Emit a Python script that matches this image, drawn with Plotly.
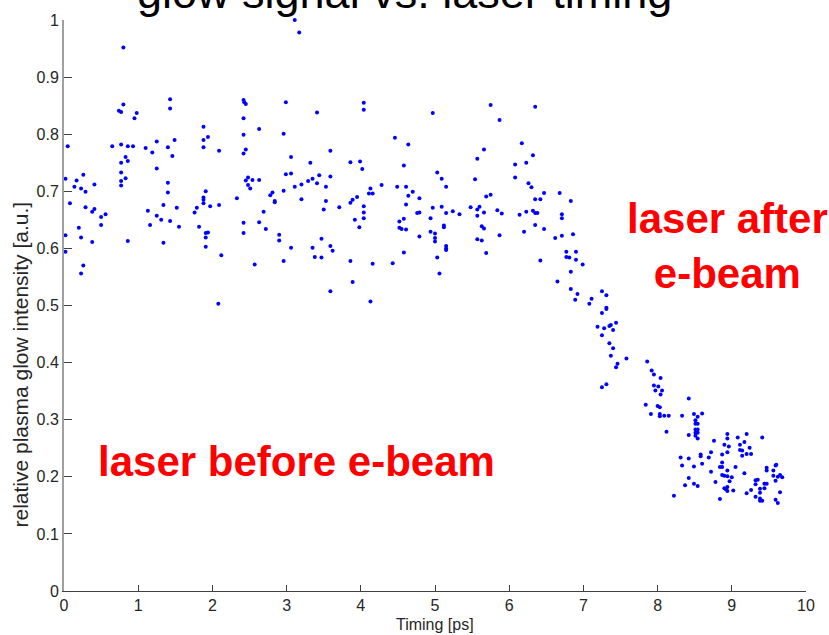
import plotly.graph_objects as go

# ---- data (Timing [ps], relative glow) ----
timing_a = [0.80, 1.43, 1.43, 0.80, 0.74, 0.77, 0.98, 0.95, 1.88, 1.88, 1.94, 1.88, 2.09, 0.05, 0.65, 0.77,
            0.86, 0.93, 1.10, 1.19, 1.25, 1.40, 1.49, 1.46, 1.25, 0.83, 0.86, 0.77, 0.77, 0.83, 0.77, 0.77,
            1.40, 1.40, 0.02, 0.26, 0.17, 0.14, 0.23, 0.29, 0.41, 0.08, 0.29, 0.41, 0.38, 0.56, 0.50, 0.50,
            0.20, 0.23, 0.02, 0.38, 0.02, 0.26, 0.23, 0.86, 1.13, 1.16, 1.25, 1.31, 1.34, 1.43, 1.52, 1.55,
            1.34, 1.91, 1.88, 1.88, 1.88, 1.97, 1.79, 1.76, 1.82, 1.94, 1.91, 1.91, 1.91, 2.09, 2.08, 2.12]
glow_a = [0.952, 0.861, 0.845, 0.852, 0.841, 0.839, 0.837, 0.828, 0.813, 0.790, 0.795, 0.777, 0.771, 0.779, 0.779, 0.782,
          0.779, 0.779, 0.776, 0.768, 0.787, 0.777, 0.790, 0.762, 0.740, 0.760, 0.753, 0.750, 0.733, 0.723, 0.718, 0.710,
          0.715, 0.698, 0.722, 0.729, 0.719, 0.708, 0.705, 0.699, 0.712, 0.679, 0.672, 0.669, 0.664, 0.660, 0.655, 0.641,
          0.636, 0.619, 0.623, 0.611, 0.594, 0.570, 0.556, 0.613, 0.666, 0.641, 0.657, 0.650, 0.676, 0.648, 0.671, 0.638,
          0.610, 0.700, 0.689, 0.685, 0.679, 0.674, 0.671, 0.663, 0.638, 0.628, 0.627, 0.619, 0.603, 0.676, 0.503, 0.588]

timing_b = [3.11, 3.17, 2.42, 2.43, 2.45, 2.99, 3.41, 4.04, 4.04, 2.42, 2.42, 2.63, 2.96, 2.45, 2.42, 3.59,
            3.06, 3.32, 3.86, 3.99, 4.02, 2.99, 3.06, 3.44, 3.59, 2.48, 2.45, 2.54, 2.63, 2.48, 2.51, 3.35,
            3.29, 3.41, 3.20, 3.11, 3.53, 2.96, 2.81, 2.78, 2.84, 2.84, 2.33, 3.20, 3.53, 4.13, 4.11, 4.16,
            3.95, 3.89, 3.86, 4.04, 4.04, 4.04, 3.71, 3.50, 2.69, 2.63, 2.42, 2.42, 2.72, 2.90, 2.90, 3.92,
            3.98, 3.47, 3.06, 3.35, 3.59, 3.62, 3.38, 3.47, 2.96, 2.57, 3.86, 4.16, 3.89, 3.59, 4.13]
glow_b = [1.000, 0.978, 0.860, 0.856, 0.853, 0.856, 0.838, 0.855, 0.843, 0.828, 0.799, 0.809, 0.801, 0.773, 0.766, 0.771,
          0.760, 0.750, 0.751, 0.752, 0.739, 0.730, 0.731, 0.728, 0.726, 0.724, 0.719, 0.720, 0.720, 0.711, 0.705, 0.722,
          0.718, 0.714, 0.712, 0.708, 0.708, 0.701, 0.698, 0.693, 0.683, 0.681, 0.688, 0.686, 0.683, 0.705, 0.696, 0.696,
          0.690, 0.685, 0.680, 0.674, 0.663, 0.653, 0.672, 0.668, 0.664, 0.646, 0.645, 0.627, 0.634, 0.624, 0.614, 0.650,
          0.637, 0.617, 0.601, 0.601, 0.604, 0.596, 0.585, 0.584, 0.578, 0.572, 0.578, 0.573, 0.541, 0.525, 0.507]

timing_c = [5.75, 5.87, 4.97, 4.46, 4.64, 6.17, 5.66, 5.57, 6.08, 6.23, 4.58, 5.03, 5.09, 5.54, 6.08, 6.26,
            4.28, 4.49, 4.61, 5.15, 4.70, 4.64, 4.79, 5.69, 5.75, 4.61, 4.97, 5.09, 5.48, 5.57, 5.60, 5.24,
            5.33, 5.15, 4.79, 4.76, 5.66, 5.84, 5.90, 6.14, 6.23, 4.94, 4.58, 4.52, 5.57, 5.12, 5.12, 5.63,
            5.66, 4.52, 4.55, 4.61, 4.94, 5.00, 6.20, 4.79, 5.87, 5.00, 5.00, 5.57, 5.63, 5.15, 5.15, 5.15,
            4.58, 5.69, 5.03, 4.43, 5.06]
glow_c = [0.851, 0.825, 0.837, 0.794, 0.782, 0.784, 0.773, 0.757, 0.747, 0.750, 0.745, 0.733, 0.722, 0.721, 0.724, 0.714,
          0.711, 0.708, 0.708, 0.708, 0.699, 0.692, 0.688, 0.691, 0.694, 0.677, 0.671, 0.673, 0.672, 0.668, 0.673, 0.665,
          0.660, 0.662, 0.663, 0.662, 0.663, 0.667, 0.661, 0.659, 0.664, 0.653, 0.652, 0.647, 0.657, 0.640, 0.637, 0.639,
          0.635, 0.636, 0.634, 0.633, 0.629, 0.626, 0.629, 0.621, 0.623, 0.618, 0.612, 0.616, 0.614, 0.604, 0.600, 0.597,
          0.593, 0.592, 0.584, 0.574, 0.556]

timing_d = [6.35, 6.32, 6.30, 6.47, 6.68, 6.35, 6.42, 6.83, 6.32, 6.35, 6.38, 6.71, 6.71, 6.35, 6.47, 6.62,
            6.71, 6.86, 6.77, 6.90, 6.77, 6.81, 6.90, 6.99, 6.42, 6.83, 6.65, 6.83, 6.92, 6.89, 7.11, 7.08,
            7.25, 7.31, 7.31, 7.31, 7.25, 7.19, 7.28, 7.35, 7.37, 7.44, 7.40, 7.25, 7.35, 7.40, 7.37, 7.58,
            7.46, 7.44, 7.25, 7.31, 7.86, 7.92, 7.95, 8.04, 7.95, 8.01, 7.97, 8.06, 8.04]
glow_d = [0.848, 0.763, 0.707, 0.697, 0.697, 0.686, 0.686, 0.683, 0.666, 0.662, 0.662, 0.660, 0.653, 0.641, 0.634, 0.618,
          0.622, 0.625, 0.594, 0.594, 0.585, 0.584, 0.580, 0.572, 0.579, 0.559, 0.542, 0.529, 0.520, 0.510, 0.512, 0.503,
          0.525, 0.518, 0.496, 0.494, 0.487, 0.463, 0.460, 0.464, 0.466, 0.470, 0.457, 0.448, 0.434, 0.425, 0.412, 0.407,
          0.398, 0.392, 0.357, 0.362, 0.402, 0.386, 0.379, 0.373, 0.360, 0.358, 0.351, 0.351, 0.344]

timing_e = [7.84, 7.91, 8.00, 8.03, 8.03, 8.03, 8.09, 8.15, 8.12, 8.42, 8.33, 8.42, 8.49, 8.54, 8.60, 8.51,
            8.51, 8.54, 8.51, 8.54, 8.51, 8.54, 8.51, 8.54, 8.76, 8.94, 8.94, 8.90, 8.96, 9.08, 9.20, 9.41,
            9.17, 9.11, 9.24, 9.11, 9.14, 9.20, 9.26, 9.14, 8.94, 8.87, 8.72, 8.69, 8.58, 8.58, 8.60, 8.31,
            8.42, 8.33, 8.49, 8.72, 8.84, 8.87, 8.87, 8.94, 9.05, 9.17, 8.42, 8.37, 8.49, 8.54, 8.22, 8.87,
            8.90, 8.94, 9.00, 8.97, 8.78, 8.90, 8.94, 8.92, 8.94, 9.02, 8.84, 9.32, 9.35, 9.32, 9.44, 9.47,
            9.38, 9.44, 9.26, 9.20, 9.38, 9.32, 9.38, 9.38, 9.41, 9.47, 9.47, 9.59, 9.56, 9.56, 9.62, 9.65,
            9.68, 9.59, 9.65, 9.59, 9.62, 9.60]
glow_e = [0.326, 0.310, 0.324, 0.322, 0.310, 0.306, 0.307, 0.307, 0.279, 0.337, 0.307, 0.273, 0.310, 0.305, 0.311, 0.299,
          0.293, 0.293, 0.283, 0.283, 0.277, 0.277, 0.272, 0.267, 0.263, 0.275, 0.267, 0.256, 0.253, 0.269, 0.275, 0.269,
          0.261, 0.256, 0.251, 0.247, 0.246, 0.240, 0.240, 0.237, 0.243, 0.239, 0.243, 0.234, 0.239, 0.236, 0.223, 0.234,
          0.232, 0.220, 0.218, 0.209, 0.217, 0.217, 0.225, 0.211, 0.217, 0.206, 0.198, 0.185, 0.188, 0.184, 0.167, 0.203,
          0.202, 0.201, 0.199, 0.192, 0.191, 0.180, 0.182, 0.178, 0.175, 0.176, 0.161, 0.194, 0.195, 0.187, 0.188, 0.188,
          0.179, 0.180, 0.177, 0.171, 0.172, 0.165, 0.162, 0.158, 0.158, 0.216, 0.211, 0.220, 0.211, 0.202, 0.200, 0.203,
          0.199, 0.193, 0.173, 0.160, 0.154, 0.221]

x_ticks = [0, 1, 2, 3, 4, 5, 6, 7, 8, 9, 10]
y_ticks = [0, 0.1, 0.2, 0.3, 0.4, 0.5, 0.6, 0.7, 0.8, 0.9, 1]
y_tick_labels = ["0", "0.1", "0.2", "0.3", "0.4", "0.5", "0.6", "0.7", "0.8", "0.9", "1"]

timing = timing_a + timing_b + timing_c + timing_d + timing_e
glow = glow_a + glow_b + glow_c + glow_d + glow_e

FONT = "Liberation Sans, Arial, sans-serif"

fig = go.Figure()
fig.add_trace(go.Scatter(
    x=timing, y=glow, mode="markers",
    marker=dict(color="#0000ff", size=4, line=dict(width=0)),
    cliponaxis=False, showlegend=False, hoverinfo="x+y",
))

fig.update_layout(
    width=829, height=635,
    margin=dict(l=64, r=23, t=14, b=44),
    paper_bgcolor="white", plot_bgcolor="white",
    font=dict(family=FONT, color="#262626", size=16),
    xaxis=dict(range=[0, 10], tickvals=x_ticks, ticks="inside", ticklen=6, tickcolor="#404040",
               showline=True, linecolor="#404040", linewidth=1, showgrid=False, zeroline=False,
               tickfont=dict(size=16, color="#262626"), mirror=False),
    yaxis=dict(range=[0, 1], tickvals=y_ticks, ticktext=y_tick_labels, ticks="inside", ticklen=8,
               tickcolor="#404040", showline=True, linecolor="#a0a0a0", linewidth=2, showgrid=False,
               zeroline=False, tickfont=dict(size=16, color="#262626"), mirror=False),
)

anns = [
    dict(text="glow signal vs. laser timing", xref="paper", yref="paper", x=0.459, y=1.0,
         xanchor="center", yanchor="bottom", showarrow=False,
         font=dict(family=FONT, size=45, color="black")),
    dict(text="relative plasma glow intensity [a.u.]", xref="paper", yref="paper", x=-0.059, y=0.397,
         xanchor="center", yanchor="middle", textangle=-90, showarrow=False,
         font=dict(family=FONT, size=21, color="#262626")),
    dict(text="Timing [ps]", xref="paper", yref="paper", x=0.5, y=-0.059,
         xanchor="center", yanchor="middle", showarrow=False,
         font=dict(family=FONT, size=16, color="#262626")),
    dict(text="<b>laser before e-beam</b>", xref="x", yref="y", x=3.13, y=0.226,
         xanchor="center", yanchor="middle", showarrow=False,
         font=dict(family=FONT, size=42, color="#ff0000")),
    dict(text="<b>laser after<br>e-beam</b>", xref="x", yref="y", x=8.94, y=0.604,
         xanchor="center", yanchor="middle", showarrow=False,
         font=dict(family=FONT, size=42, color="#ff0000")),
]
fig.update_layout(annotations=anns)

fig.write_html("out.html")
